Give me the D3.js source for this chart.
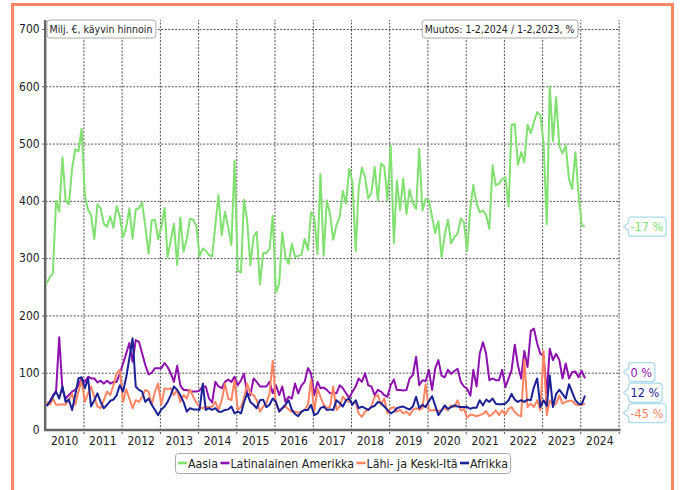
<!DOCTYPE html>
<html><head><meta charset="utf-8">
<script src="https://cdn.jsdelivr.net/npm/d3@7"></script>
<style>
html,body{margin:0;padding:0;background:#fff;}
svg text{font-family:'DejaVu Sans Condensed','DejaVu Sans',sans-serif;font-stretch:condensed;}
</style></head>
<body><svg id="c" width="680" height="490"></svg>
<script>
// ---- data (monthly, Jan 2010 .. Feb 2024), million EUR ----
const seriesNames = ["Aasia", "Latinalainen Amerikka", "Lähi- ja Keski-Itä", "Afrikka"];
const seriesColors = ["#80e070", "#8e10ae", "#ff8462", "#1c2196"];
const startYear = 2010, startMonth = 0;
const yTicks = [0, 100, 200, 300, 400, 500, 600, 700];
const xTickYears = [2010, 2011, 2012, 2013, 2014, 2015, 2016, 2017, 2018, 2019, 2020, 2021, 2022, 2023, 2024];
const unitLabel = "Milj. €, käyvin hinnoin";
const changeLabel = "Muutos: 1-2,2024 / 1-2,2023, %";

const aasia = [
 256,267,273,400,381,476,400,394,456,490,487,526,
 410,384,375,333,394,387,360,355,373,353,391,372,
 336,355,387,334,385,387,397,355,308,366,367,333,
 355,388,302,331,360,288,371,311,333,369,367,356,
 303,317,313,305,303,358,410,340,381,355,323,470,
 278,275,402,366,288,337,346,254,309,309,316,374,
 240,255,345,302,290,325,302,304,306,334,314,380,
 372,307,447,304,401,377,332,357,372,417,395,456,
 433,312,421,458,442,404,414,459,401,465,460,401,
 497,326,435,384,439,377,420,396,386,491,383,403,
 401,372,344,365,302,340,367,326,337,342,369,363,
 313,389,428,395,380,383,376,351,462,427,430,438,
 441,390,533,534,463,485,467,533,518,537,555,549,
 502,359,600,504,581,495,483,497,438,421,485,412,
 357,355];
const latam = [
 42,50,60,68,162,70,55,61,67,70,78,90,
 84,93,90,90,83,86,81,86,81,84,84,99,
 116,134,152,119,157,154,134,113,97,100,108,108,
 108,117,110,99,84,112,78,70,70,67,67,67,
 69,76,76,55,48,84,76,73,84,88,84,93,
 78,87,98,64,61,90,84,76,76,76,84,64,
 78,61,76,49,58,55,81,64,78,84,108,99,
 61,84,73,74,70,64,64,64,78,73,64,56,
 67,76,90,84,99,78,76,61,70,67,61,58,
 78,88,70,70,69,70,90,96,128,78,87,85,
 105,70,107,122,95,92,105,98,103,107,84,76,
 72,60,105,76,133,153,133,87,90,87,87,105,
 75,90,104,149,113,90,138,110,173,177,151,133,
 130,63,142,122,133,122,90,116,90,101,102,92,
 103,90];
const lahiIta = [
 49,44,55,44,44,45,44,52,63,44,67,87,
 49,64,76,58,41,38,52,67,61,78,99,105,
 49,71,55,38,52,49,58,70,67,44,67,81,
 44,73,71,73,61,70,49,61,55,71,58,48,
 40,38,40,40,41,49,35,52,81,55,52,87,
 35,40,55,81,64,61,52,32,41,47,64,121,
 44,35,38,41,36,32,32,30,32,35,44,87,
 32,73,58,44,38,41,76,35,41,58,52,49,
 47,49,29,23,32,35,41,58,61,44,55,29,
 38,40,32,35,29,32,26,35,38,35,38,80,
 35,34,35,33,35,39,34,43,40,52,34,37,
 22,27,26,24,26,28,33,24,28,34,26,34,
 27,37,40,31,26,24,122,40,46,40,52,34,
 138,26,52,43,46,60,46,49,51,51,45,43,
 44,46];
const afrikka = [
 42,49,58,67,55,76,49,53,35,61,90,92,
 73,90,41,52,64,49,38,44,51,53,61,78,
 67,93,125,160,76,70,67,49,55,44,35,26,
 36,41,49,61,76,70,61,49,32,38,36,36,
 35,81,35,38,35,38,32,32,35,36,41,29,
 32,29,48,64,49,44,38,52,53,40,44,55,
 49,32,38,44,52,35,28,24,32,35,35,44,
 26,29,38,41,35,36,35,52,47,41,52,55,
 44,52,38,41,38,35,40,42,49,47,41,35,
 29,32,38,40,41,38,36,41,58,38,44,40,
 50,59,43,26,34,43,37,40,43,41,40,40,
 40,37,39,39,52,43,53,49,55,46,45,45,
 46,52,63,53,49,52,49,53,52,75,90,40,
 52,42,95,40,63,70,63,55,80,66,52,46,
 45,60];
const allSeries = [aasia, latam, lahiIta, afrikka];

// ---- drawing ----
const svg = d3.select("#c");
const L = 45.2, R = 618.6, T = 20, B = 430;
const x = d3.scaleTime().domain([new Date(2010,0,1), new Date(2025,0,1)]).range([L, R]);
const y = d3.scaleLinear().domain([0, 715.7]).range([B, T]);
const dateOf = i => new Date(startYear, startMonth + i, 15);

// frame
svg.append("rect").attr("x",12.5).attr("y",4.5).attr("width",660).attr("height",540)
  .attr("fill","none").attr("stroke","#fd8666").attr("stroke-width",3);

// horizontal grid lines (y ticks)
const yAxis = d3.axisLeft(y).tickValues(yTicks).tickSize(-(R + 1.5 - L)).tickPadding(4);
const gy = svg.append("g").attr("transform",`translate(${L},0)`).call(yAxis);
gy.select(".domain").remove();
gy.selectAll(".tick line").attr("x1",-3).attr("stroke","#333").attr("stroke-dasharray","2,1.5").attr("stroke-width",1).attr("opacity",0.85);
gy.selectAll(".tick").filter(d=>d===0).select("line").remove();
gy.selectAll(".tick text").attr("font-size",12).attr("fill","#222").attr("x",-5.5);

// vertical grid lines at year boundaries
const vDates = d3.range(2011, 2026).map(yr => new Date(yr,0,1));
const gx = svg.append("g").attr("transform",`translate(0,${B})`)
  .call(d3.axisBottom(x).tickValues(vDates).tickSize(-(B - T)).tickFormat(""));
gx.select(".domain").remove();
gx.selectAll(".tick line").attr("y1",4).attr("y2",-(B-T)).attr("stroke","#333").attr("stroke-dasharray","2,1.5").attr("stroke-width",1).attr("opacity",0.85);

// year labels (mid-year)
const gl = svg.append("g").attr("transform",`translate(0,${B})`)
  .call(d3.axisBottom(x).tickValues(xTickYears.map(yr=>new Date(yr,6,1))).tickSize(0).tickPadding(6).tickFormat(d3.timeFormat("%Y")));
gl.select(".domain").remove();
gl.selectAll(".tick text").attr("font-size",12).attr("fill","#222");

// axis lines
svg.append("line").attr("x1",L).attr("x2",L).attr("y1",T).attr("y2",B+1).attr("stroke","#666").attr("stroke-width",2.5);
svg.append("line").attr("x1",L-1).attr("x2",R+2).attr("y1",B).attr("y2",B).attr("stroke","#666").attr("stroke-width",2.5);

// lines
const line = d3.line().x((d,i)=>x(dateOf(i))).y(d=>y(d));
allSeries.forEach((s,k)=>{
  svg.append("path").datum(s).attr("d",line).attr("fill","none")
    .attr("stroke",seriesColors[k]).attr("stroke-width",2).attr("stroke-linejoin","round");
});

// annotation boxes
function labelBox(txt, x0, y0, fs){
  const g = svg.append("g");
  const t = g.append("text").attr("x",x0+3).attr("y",y0+13).attr("font-size",fs).attr("fill","#222").text(txt);
  const w = t.node().getComputedTextLength();
  g.insert("rect","text").attr("x",x0+0.5).attr("y",y0+0.5).attr("width",w+6).attr("height",18)
    .attr("rx",3).attr("fill","#fff").attr("stroke","#aaa");
  return w;
}
labelBox(unitLabel, 46.5, 19.5, 10.5);
{
  const g = svg.append("g");
  const t = g.append("text").attr("font-size",10.5).text(changeLabel);
  const w = t.node().getComputedTextLength();
  g.remove();
  labelBox(changeLabel, 577.5 - (w+6), 19.5, 10.5);
}

// right-side change labels with dodge
const n = aasia.length;
const lbls = allSeries.map((s,k)=>{
  const cur = s[n-2]+s[n-1], prev = s[n-14]+s[n-13];
  const pct = Math.round((cur/prev - 1)*100);
  return {k, txt: (pct===0?0:pct) + " %", y: y(s[n-1])};
});
lbls.sort((a,b)=>a.y-b.y);
const H = 20.5;
let groups = lbls.map(l=>({items:[l], c:l.y}));
let changed = true;
while(changed){
  changed = false;
  for(let i=0;i<groups.length-1;i++){
    const a = groups[i], b = groups[i+1];
    const aBot = a.c + a.items.length*H/2, bTop = b.c - b.items.length*H/2;
    if(aBot > bTop){
      const items = a.items.concat(b.items);
      const c = d3.mean(items, d=>d.y);
      groups.splice(i,2,{items, c});
      changed = true; break;
    }
  }
}
groups.forEach(g=>{
  g.items.forEach((l,j)=>{ l.ly = g.c + (j - (g.items.length-1)/2)*H; });
});
lbls.forEach(l=>{
  const gg = svg.append("g");
  const t = gg.append("text").attr("x",630.5).attr("y",l.ly+4.5).attr("font-size",12.5)
    .attr("fill",seriesColors[l.k]).text(l.txt);
  const w = t.node().getComputedTextLength();
  const x0 = 628.5, x1 = 628.5 + w + 5, t0 = l.ly - 9.5, b0 = l.ly + 9.5, r = 3;
  const p = `M${x0-5},${l.ly} L${x0},${l.ly-4} V${t0+r} Q${x0},${t0} ${x0+r},${t0} H${x1-r} Q${x1},${t0} ${x1},${t0+r} V${b0-r} Q${x1},${b0} ${x1-r},${b0} H${x0+r} Q${x0},${b0} ${x0},${b0-r} V${l.ly+4} Z`;
  gg.insert("path","text").attr("d",p).attr("fill","#fff").attr("stroke","#a9d9ea").attr("stroke-width",1.2);
});

// legend
const lg = svg.append("g");
let cx = 0;
seriesNames.forEach((nm,k)=>{
  const it = lg.append("g").attr("transform",`translate(${cx},0)`);
  it.append("line").attr("x1",0).attr("x2",9).attr("y1",0).attr("y2",0).attr("stroke",seriesColors[k]).attr("stroke-width",2.6);
  const t = it.append("text").attr("x",10).attr("y",4.5).attr("font-size",12.3).attr("fill","#222").text(nm);
  cx += 10 + t.node().getComputedTextLength() + 2.5;
});
const totalW = cx - 2.5;
const lx = 343 - totalW/2;
lg.attr("transform",`translate(${lx},463)`);
lg.insert("rect",":first-child").attr("x",-2.5).attr("y",-9.5).attr("width",totalW+5).attr("height",20)
  .attr("rx",3).attr("fill","#fff").attr("stroke","#aaa");
</script></body></html>
